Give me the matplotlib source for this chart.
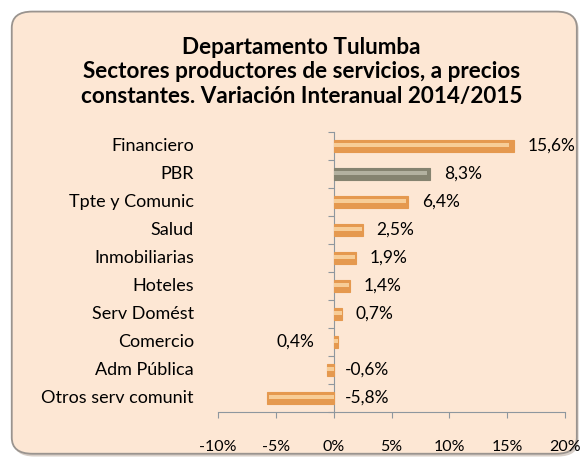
import matplotlib.pyplot as plt
from matplotlib.patches import FancyBboxPatch
from matplotlib.ticker import FixedLocator, FuncFormatter

# Datos
sectores = ["Financiero", "PBR", "Tpte y Comunic", "Salud", "Inmobiliarias",
            "Hoteles", "Serv Domést", "Comercio", "Adm Pública", "Otros serv comunit"]
variacion = [15.6, 8.3, 6.4, 2.5, 1.9, 1.4, 0.7, 0.4, -0.6, -5.8]
etiquetas = ["15,6%", "8,3%", "6,4%", "2,5%", "1,9%", "1,4%", "0,7%", "0,4%", "-0,6%", "-5,8%"]
ticks_x = [-10, -5, 0, 5, 10, 15, 20]

titulo = ("Departamento Tulumba\nSectores productores de servicios, a precios\n"
          "constantes. Variación Interanual 2014/2015")

plt.rcParams['font.family'] = ['Lato', 'DejaVu Sans']

fondo = '#FDE7D4'
naranja = '#E5994F'
naranja_claro = '#FAD3A0'
gris = '#858370'
gris_claro = '#B9B7A6'
eje = '#8E979E'

fig = plt.figure(figsize=(5.88, 4.63), dpi=100)

# Caja redondeada de fondo con sombra
sombra = FancyBboxPatch((0.023, 0.014), 0.961, 0.958, boxstyle="round,pad=0,rounding_size=0.035",
                        transform=fig.transFigure, facecolor='#D8CFC8', edgecolor='none',
                        zorder=-2)
caja = FancyBboxPatch((0.020, 0.020), 0.961, 0.955, boxstyle="round,pad=0,rounding_size=0.035",
                      transform=fig.transFigure, facecolor=fondo, edgecolor='#9A948F',
                      linewidth=1.3, zorder=-1)
fig.patches.extend([sombra, caja])

ax = fig.add_axes([0.371, 0.110, 0.590, 0.605])
ax.set_facecolor('none')
ax.set_zorder(2)

y = list(range(len(sectores)))
colores = [gris if s == "PBR" else naranja for s in sectores]
claros = [gris_claro if s == "PBR" else naranja_claro for s in sectores]

ax.barh(y, variacion, height=0.42, color=colores, edgecolor=colores, linewidth=0.8, zorder=3)
# brillo de las barras
ax.barh([i - 0.04 for i in y], [v * 0.97 for v in variacion], height=0.13, color=claros,
        linewidth=0, alpha=0.9, zorder=4)

ax.set_xlim(-10, 20)
ax.set_ylim(len(sectores) - 0.5, -0.5)

# Eje vertical en el 0
for lado in ['top', 'right']:
    ax.spines[lado].set_visible(False)
ax.spines['left'].set_position(('data', 0))
ax.spines['left'].set_color(eje)
ax.spines['bottom'].set_color(eje)
ax.yaxis.set_major_locator(FixedLocator([i - 0.5 for i in range(len(sectores) + 1)]))
ax.yaxis.set_major_formatter(FuncFormatter(lambda v, p: ""))
ax.tick_params(axis='y', length=4, color=eje, direction='out')

ax.set_xticks(ticks_x)
ax.set_xticklabels([f"{t}%" for t in ticks_x])
ax.tick_params(axis='x', length=4, color=eje, pad=16, labelsize=11.5)

# Nombres de categorías
for i, s in enumerate(sectores):
    ax.text(-0.07, i, s, transform=ax.get_yaxis_transform(), ha='right', va='center',
            fontsize=13)

# Etiquetas de valores
for i, (v, e) in enumerate(zip(variacion, etiquetas)):
    if v < 0:
        ax.text(1.0, i, e, ha='left', va='center', fontsize=12.5)
    elif v < 0.5:
        ax.text(-1.7, i, e, ha='right', va='center', fontsize=12.5)
    else:
        ax.text(v + 1.2, i, e, ha='left', va='center', fontsize=12.5)

fig.text(0.513, 0.845, titulo, ha='center', va='center', fontsize=16.2,
         fontweight='bold', linespacing=1.2)

fig.savefig("out.png", dpi=100, facecolor='white')
